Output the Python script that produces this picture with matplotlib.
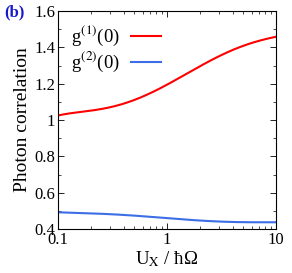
import numpy as np
import matplotlib
matplotlib.use('Agg')
import matplotlib.pyplot as plt
from matplotlib.ticker import MultipleLocator, LogLocator, NullFormatter

plt.rcParams['font.family'] = ['Liberation Serif', 'DejaVu Serif']
plt.rcParams['mathtext.fontset'] = 'stix'

u = [0.1, 0.2, 0.41, 0.82, 1.64, 3.35, 6.7, 10.0]
g1 = [1.025, 1.05, 1.095, 1.165, 1.266, 1.367, 1.431, 1.459]
g2 = [0.492, 0.486, 0.477, 0.464, 0.45, 0.44, 0.437, 0.437]

# smooth through the read points in log space
lu = np.log10(u)
xs = np.linspace(lu[0], lu[-1], 200)
c1 = np.polyfit(lu, g1, 5)
c2 = np.polyfit(lu, g2, 5)

fig = plt.figure(figsize=(2.92, 2.73), dpi=100)
ax = fig.add_axes([58/292, 1-229/273, 218/292, 218/273])
ax.plot(10**xs, np.polyval(c1, xs), color='#ff0000', lw=1.5, label=r'g$^{(1)}$(0)')
ax.plot(10**xs, np.polyval(c2, xs), color='#3c6ee6', lw=1.5, label=r'g$^{(2)}$(0)')

ax.set_xscale('log')
ax.set_xlim(0.1, 10)
ax.set_ylim(0.4, 1.6)
ax.set_xticks([0.1, 1, 10])
ax.set_xticklabels(['0.1', '1', '10'])
ax.xaxis.set_minor_locator(LogLocator(subs=np.arange(2, 10)))
ax.xaxis.set_minor_formatter(NullFormatter())
ax.set_yticks([0.4, 0.6, 0.8, 1.0, 1.2, 1.4, 1.6])
ax.set_yticklabels(['0.4', '0.6', '0.8', '1', '1.2', '1.4', '1.6'])
ax.yaxis.set_minor_locator(MultipleLocator(0.1))
ax.tick_params(which='both', direction='in', top=True, right=True, labelsize=12, pad=2)
ax.tick_params(which='major', length=4, width=0.6)
ax.tick_params(which='minor', length=2, width=0.5)
for s in ax.spines.values():
    s.set_linewidth(0.8)

ax.set_ylabel('Photon correlation', fontsize=14, labelpad=2)
ax.set_xlabel(r'U$_\mathrm{X}$ / ħΩ', fontsize=13.5, labelpad=1)
ax.legend(loc='upper left', frameon=False, markerfirst=False, fontsize=13.5,
          handlelength=1.6, borderaxespad=0.3, labelspacing=0.1, handletextpad=0.6)
fig.text(4/292, 1-16/273, '(b)', color='#1a1acc', fontweight='bold', fontsize=12)

plt.savefig('out.png', dpi=100)
